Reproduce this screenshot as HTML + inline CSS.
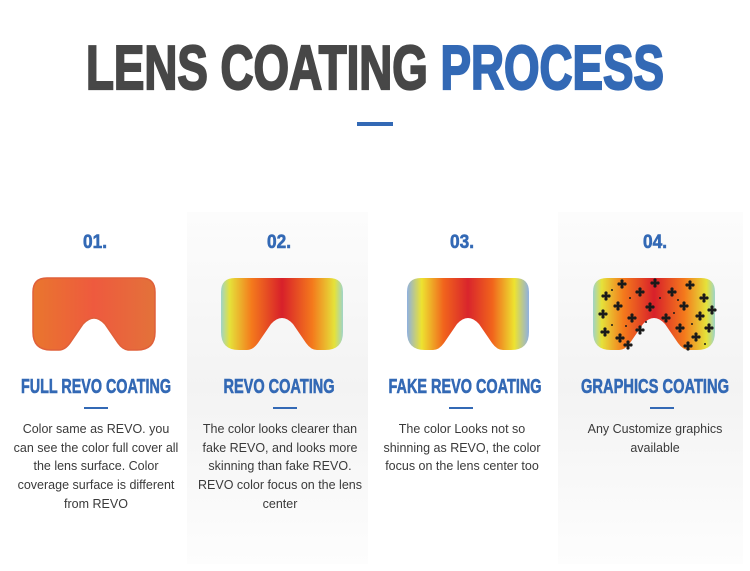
<!DOCTYPE html>
<html><head><meta charset="utf-8"><style>
html,body{margin:0;padding:0;background:#fff;}
svg{display:block;}
.t{font-family:"Liberation Sans Narrow","Liberation Sans",sans-serif;font-weight:bold;}
.b{font-family:"Liberation Sans",sans-serif;font-size:12.5px;fill:#3a3a3a;text-anchor:middle;}
</style></head><body>
<svg width="750" height="571" viewBox="0 0 750 571" xmlns="http://www.w3.org/2000/svg">
<defs>
<linearGradient id="p1" x1="0" y1="0" x2="0" y2="1"><stop offset="0" stop-color="#fcfcfc"/><stop offset="0.5" stop-color="#f3f3f3"/><stop offset="1" stop-color="#fdfdfd"/></linearGradient>
<linearGradient id="g1" x1="0" x2="1"><stop offset="0" stop-color="#e9762e"/><stop offset="0.5" stop-color="#ee5a3e"/><stop offset="1" stop-color="#e3723a"/></linearGradient>
<linearGradient id="g2" x1="0" x2="1"><stop offset="0" stop-color="#9fd4c8"/><stop offset="0.07" stop-color="#e5e23a"/><stop offset="0.25" stop-color="#f47a1c"/><stop offset="0.5" stop-color="#d8202a"/><stop offset="0.75" stop-color="#f47a1c"/><stop offset="0.93" stop-color="#e5e23a"/><stop offset="1" stop-color="#9fd4c8"/></linearGradient>
<linearGradient id="g3" x1="0" x2="1"><stop offset="0" stop-color="#8fb0e0"/><stop offset="0.12" stop-color="#ede330"/><stop offset="0.3" stop-color="#f1641c"/><stop offset="0.5" stop-color="#d9252c"/><stop offset="0.7" stop-color="#f1641c"/><stop offset="0.88" stop-color="#ede330"/><stop offset="1" stop-color="#8fb0e0"/></linearGradient>
<path id="lens" d="M14,0 H108 Q122,0 122,14 V54 Q122,72 104,72 H96 Q90,72 85,65 L72,46 Q61,34 50,46 L37,65 Q32,72 26,72 H18 Q0,72 0,54 V14 Q0,0 14,0 Z"/>
<g id="star"><circle r="2.2"/><circle cx="0" cy="-3" r="1.6"/><circle cx="3" cy="0" r="1.6"/><circle cx="0" cy="3" r="1.6"/><circle cx="-3" cy="0" r="1.6"/></g>
</defs>
<rect x="187" y="212" width="181" height="352" fill="url(#p1)"/>
<rect x="558" y="212" width="185" height="352" fill="url(#p1)"/>

<text class="t" x="375" y="89" font-size="62" text-anchor="middle" textLength="578" lengthAdjust="spacingAndGlyphs" stroke-width="2.2"><tspan fill="#474747" stroke="#474747">LENS COATING </tspan><tspan fill="#3369b5" stroke="#3369b5">PROCESS</tspan></text>
<rect x="357" y="122" width="36" height="4" fill="#3369b5"/>

<g class="t" fill="#3369b5" stroke="#3369b5" stroke-width="0.6" font-size="19" text-anchor="middle">
<text x="95" y="248" textLength="24" lengthAdjust="spacingAndGlyphs">01.</text><text x="279" y="248" textLength="24" lengthAdjust="spacingAndGlyphs">02.</text><text x="462" y="248" textLength="24" lengthAdjust="spacingAndGlyphs">03.</text><text x="655" y="248" textLength="24" lengthAdjust="spacingAndGlyphs">04.</text>
<text x="96" y="393" font-size="20" textLength="150" lengthAdjust="spacingAndGlyphs">FULL REVO COATING</text>
<text x="279" y="393" font-size="20" textLength="111" lengthAdjust="spacingAndGlyphs">REVO COATING</text>
<text x="465" y="393" font-size="20" textLength="153" lengthAdjust="spacingAndGlyphs">FAKE REVO COATING</text>
<text x="655" y="393" font-size="20" textLength="148" lengthAdjust="spacingAndGlyphs">GRAPHICS COATING</text>
</g>
<g fill="#3369b5"><rect x="84" y="407" width="24" height="2"/><rect x="273" y="407" width="24" height="2"/><rect x="449" y="407" width="24" height="2"/><rect x="650" y="407" width="24" height="2"/></g>

<use href="#lens" x="33" y="278" fill="url(#g1)" stroke="#e0603a" stroke-width="1.5"/>
<use href="#lens" x="221" y="278" fill="url(#g2)"/>
<use href="#lens" x="407" y="278" fill="url(#g3)"/>
<use href="#lens" x="593" y="278" fill="url(#g2)"/>
<g fill="#1a1a1a">
<use href="#star" x="606" y="296"/><use href="#star" x="622" y="284"/><use href="#star" x="640" y="292"/><use href="#star" x="655" y="283"/><use href="#star" x="672" y="292"/><use href="#star" x="690" y="285"/><use href="#star" x="704" y="298"/>
<use href="#star" x="603" y="314"/><use href="#star" x="618" y="306"/><use href="#star" x="632" y="318"/><use href="#star" x="650" y="307"/><use href="#star" x="666" y="318"/><use href="#star" x="684" y="306"/><use href="#star" x="700" y="316"/><use href="#star" x="712" y="310"/>
<use href="#star" x="605" y="332"/><use href="#star" x="620" y="338"/><use href="#star" x="640" y="330"/><use href="#star" x="680" y="328"/><use href="#star" x="696" y="337"/><use href="#star" x="709" y="328"/>
<use href="#star" x="628" y="345"/><use href="#star" x="688" y="346"/>
<circle cx="612" cy="290" r="1"/><circle cx="630" cy="298" r="1"/><circle cx="660" cy="298" r="1"/><circle cx="678" cy="300" r="1"/><circle cx="646" cy="322" r="1"/><circle cx="674" cy="313" r="1"/><circle cx="612" cy="325" r="1"/><circle cx="705" cy="344" r="1"/><circle cx="626" cy="326" r="1"/><circle cx="692" cy="324" r="1"/>
</g>

<text class="b" x="96" y="433">Color same as REVO. you</text>
<text class="b" x="96" y="452">can see the color full cover all</text>
<text class="b" x="96" y="470">the lens surface. Color</text>
<text class="b" x="96" y="489">coverage surface is different</text>
<text class="b" x="96" y="508">from REVO</text>

<text class="b" x="280" y="433">The color looks clearer than</text>
<text class="b" x="280" y="452">fake REVO, and looks more</text>
<text class="b" x="280" y="470">skinning than fake REVO.</text>
<text class="b" x="280" y="489">REVO color focus on the lens</text>
<text class="b" x="280" y="508">center</text>

<text class="b" x="462" y="433">The color Looks not so</text>
<text class="b" x="462" y="452">shinning as REVO, the color</text>
<text class="b" x="462" y="470">focus on the lens center too</text>

<text class="b" x="655" y="433">Any Customize graphics</text>
<text class="b" x="655" y="452">available</text>
</svg>
</body></html>
